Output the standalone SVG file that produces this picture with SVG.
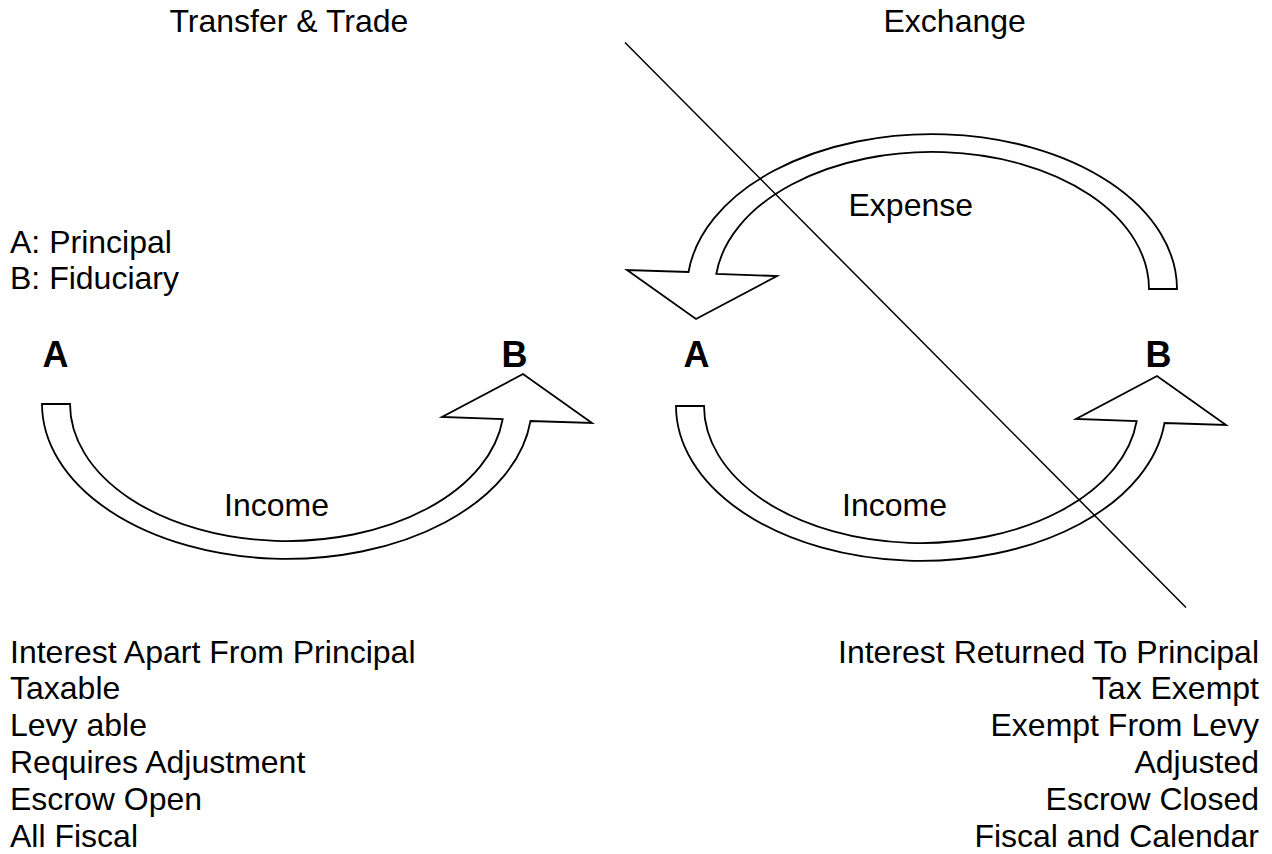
<svg xmlns="http://www.w3.org/2000/svg" width="1272" height="854" viewBox="0 0 1272 854">
  <style>
    .t { font-family: "Liberation Sans", Arial, sans-serif; font-size: 32px; fill: #000; }
    .b { font-family: "Liberation Sans", Arial, sans-serif; font-size: 36px; font-weight: bold; fill: #000; }
    .arrow { fill: #fff; stroke: #000; stroke-width: 1.8; stroke-linejoin: miter; }
    .divider { stroke: #000; stroke-width: 1.5; fill: none; }
  </style>
  <defs>
    <path id="curvedArrow" d="M 42 404 A 245 155 0 0 0 530.5 421 L 592 423 L 523 374 L 442 417 L 502.7 419 A 217 137 0 0 1 70 404 Z"/>
  </defs>
  <rect x="0" y="0" width="1272" height="854" fill="#fff"/>

  <g id="headings">
    <text class="t" x="169.5" y="32">Transfer &amp; Trade</text>
    <text class="t" x="883.5" y="32">Exchange</text>
  </g>

  <g id="legend">
    <text class="t" x="10" y="253">A: Principal</text>
    <text class="t" x="10" y="289">B: Fiduciary</text>
  </g>

  <g id="connectors">
    <g id="income-left">
      <use href="#curvedArrow" class="arrow"/>
      <text class="t" x="224" y="516">Income</text>
    </g>
    <g id="income-right">
      <use href="#curvedArrow" class="arrow" transform="translate(634 2)"/>
      <text class="t" x="842" y="516">Income</text>
    </g>
    <g id="expense">
      <use href="#curvedArrow" class="arrow" transform="rotate(180 609.5 346.5)"/>
      <text class="t" x="848.5" y="216">Expense</text>
    </g>
  </g>

  <g id="node-A-left"><text class="b" x="42.5" y="367">A</text></g>
  <g id="node-B-left"><text class="b" x="501.5" y="367">B</text></g>
  <g id="node-A-right"><text class="b" x="683.5" y="367">A</text></g>
  <g id="node-B-right"><text class="b" x="1145.5" y="367">B</text></g>

  <g id="divider">
    <line class="divider" x1="625" y1="42.5" x2="1186" y2="607.5"/>
  </g>

  <g id="left-list">
    <text class="t" x="10" y="662.5">Interest Apart From Principal</text>
    <text class="t" x="10" y="699.3">Taxable</text>
    <text class="t" x="10" y="736">Levy able</text>
    <text class="t" x="10" y="773">Requires Adjustment</text>
    <text class="t" x="10" y="810">Escrow Open</text>
    <text class="t" x="10" y="846.7">All Fiscal</text>
  </g>

  <g id="right-list" text-anchor="end">
    <text class="t" x="1259" y="662.5">Interest Returned To Principal</text>
    <text class="t" x="1259" y="699.3">Tax Exempt</text>
    <text class="t" x="1259" y="736">Exempt From Levy</text>
    <text class="t" x="1259" y="773">Adjusted</text>
    <text class="t" x="1259" y="810">Escrow Closed</text>
    <text class="t" x="1259" y="846.7">Fiscal and Calendar</text>
  </g>
</svg>
